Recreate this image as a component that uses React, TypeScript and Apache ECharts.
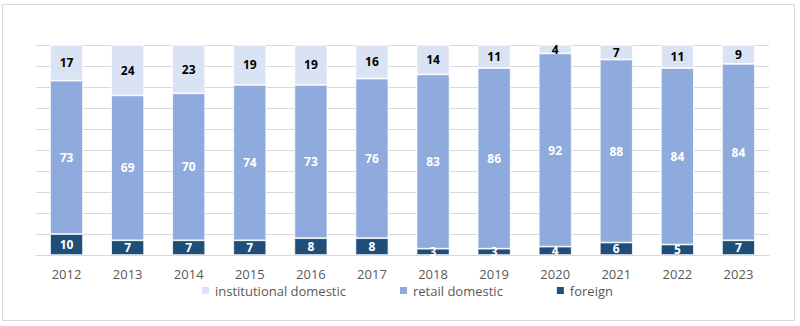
import React, { useEffect, useRef } from "react";
import * as echarts from "echarts";

const years = ["2012","2013","2014","2015","2016","2017","2018","2019","2020","2021","2022","2023"];
const institutional = [17, 24, 23, 19, 19, 16, 14, 11, 4, 7, 11, 9];
const retail = [73, 69, 70, 74, 73, 76, 83, 86, 92, 88, 84, 84];
const foreign = [10, 7, 7, 7, 8, 8, 3, 3, 4, 6, 5, 7];

const FONT = "Open Sans";

export default function App() {
  const ref = useRef<HTMLDivElement>(null);
  useEffect(() => {
    if (!ref.current) return;
    const chart = echarts.init(ref.current, null, { renderer: "svg" });
    const totals = years.map((_, i) => institutional[i] + retail[i] + foreign[i]);
    const pct = (arr: number[]) => arr.map((v, i) => ({ value: (v / totals[i]) * 100, raw: v }));
    const mk = (name: string, arr: number[], color: string, labelColor: string) => ({
      name,
      type: "bar",
      stack: "total",
      barWidth: "54%",
      data: pct(arr),
      itemStyle: { color, borderColor: "#ffffff", borderWidth: 0.75 },
      label: {
        show: true,
        position: "inside",
        color: labelColor,
        fontFamily: FONT,
        fontWeight: "bold",
        fontSize: 12,
        formatter: (p: any) => String(p.data.raw),
      },
    });
    chart.setOption({
      animation: false,
      graphic: [
        {
          type: "rect",
          shape: { x: 2.5, y: 4.5, width: 792, height: 316 },
          style: { fill: "none", stroke: "#d9d9d9", lineWidth: 1 },
          silent: true,
        },
      ],
      grid: { left: 36, right: 31, top: 45, bottom: 71 },
      legend: {
        bottom: 24,
        left: 195,
        itemWidth: 9,
        itemHeight: 9,
        itemGap: 52,
        icon: "rect",
        textStyle: { color: "#595959", fontFamily: FONT, fontSize: 13 },
        data: ["institutional domestic", "retail domestic", "foreign"],
      },
      xAxis: {
        type: "category",
        data: years,
        axisLine: { lineStyle: { color: "#d9d9d9", width: 1 } },
        axisTick: { show: false },
        axisLabel: { color: "#595959", fontFamily: FONT, fontSize: 13, margin: 12 },
      },
      yAxis: {
        type: "value",
        min: 0,
        max: 100,
        interval: 10,
        axisLabel: { show: false },
        axisLine: { show: false },
        axisTick: { show: false },
        splitLine: { lineStyle: { color: "#d9d9d9", width: 1 } },
      },
      series: [
        mk("foreign", foreign, "#1f4e79", "#ffffff"),
        mk("retail domestic", retail, "#8faadc", "#ffffff"),
        mk("institutional domestic", institutional, "#dae3f3", "#000000"),
      ],
    });
    return () => chart.dispose();
  }, []);
  return (
    <div
      ref={ref}
      style={{ position: "absolute", left: 0, top: 0, width: 800, height: 326, background: "#ffffff" }}
    />
  );
}
